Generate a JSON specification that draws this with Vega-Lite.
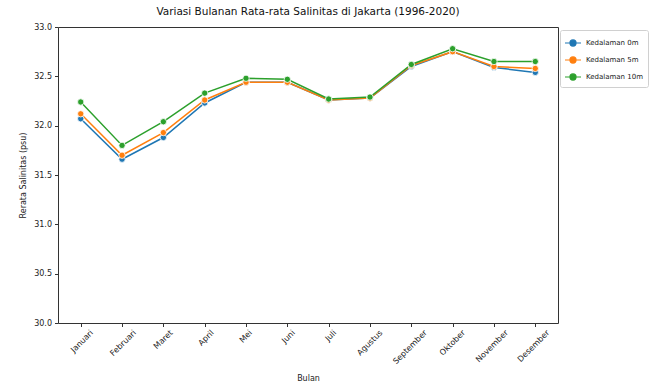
{
  "$schema": "https://vega.github.io/schema/vega-lite/v6.json",
  "width": 500,
  "height": 296,
  "autosize": {"type": "none"},
  "padding": {"left": 58, "top": 27, "right": 96, "bottom": 64},
  "background": "white",
  "config": {
    "font": "DejaVu Sans",
    "view": {"stroke": "#333333", "strokeWidth": 1},
    "axis": {
      "labelFont": "DejaVu Sans",
      "titleFont": "DejaVu Sans",
      "labelFontSize": 8,
      "titleFontSize": 8,
      "labelColor": "#222222",
      "titleColor": "#222222",
      "titleFontWeight": "normal",
      "tickColor": "#333333",
      "domain": false,
      "grid": false,
      "tickSize": 3.5
    }
  },
  "title": {
    "text": "Variasi Bulanan Rata-rata Salinitas di Jakarta (1996-2020)",
    "fontSize": 10.5,
    "fontWeight": "normal",
    "color": "#111111",
    "font": "DejaVu Sans",
    "anchor": "middle",
    "offset": 6
  },
  "data": {
    "values": [
      {"bulan": "Januari", "kedalaman": "Kedalaman 0m", "salinitas": 32.07},
      {"bulan": "Februari", "kedalaman": "Kedalaman 0m", "salinitas": 31.66},
      {"bulan": "Maret", "kedalaman": "Kedalaman 0m", "salinitas": 31.88},
      {"bulan": "April", "kedalaman": "Kedalaman 0m", "salinitas": 32.23},
      {"bulan": "Mei", "kedalaman": "Kedalaman 0m", "salinitas": 32.44},
      {"bulan": "Juni", "kedalaman": "Kedalaman 0m", "salinitas": 32.44},
      {"bulan": "Juli", "kedalaman": "Kedalaman 0m", "salinitas": 32.26},
      {"bulan": "Agustus", "kedalaman": "Kedalaman 0m", "salinitas": 32.28},
      {"bulan": "September", "kedalaman": "Kedalaman 0m", "salinitas": 32.6},
      {"bulan": "Oktober", "kedalaman": "Kedalaman 0m", "salinitas": 32.75},
      {"bulan": "November", "kedalaman": "Kedalaman 0m", "salinitas": 32.59},
      {"bulan": "Desember", "kedalaman": "Kedalaman 0m", "salinitas": 32.54},
      {"bulan": "Januari", "kedalaman": "Kedalaman 5m", "salinitas": 32.12},
      {"bulan": "Februari", "kedalaman": "Kedalaman 5m", "salinitas": 31.7},
      {"bulan": "Maret", "kedalaman": "Kedalaman 5m", "salinitas": 31.93},
      {"bulan": "April", "kedalaman": "Kedalaman 5m", "salinitas": 32.26},
      {"bulan": "Mei", "kedalaman": "Kedalaman 5m", "salinitas": 32.44},
      {"bulan": "Juni", "kedalaman": "Kedalaman 5m", "salinitas": 32.44},
      {"bulan": "Juli", "kedalaman": "Kedalaman 5m", "salinitas": 32.26},
      {"bulan": "Agustus", "kedalaman": "Kedalaman 5m", "salinitas": 32.28},
      {"bulan": "September", "kedalaman": "Kedalaman 5m", "salinitas": 32.61},
      {"bulan": "Oktober", "kedalaman": "Kedalaman 5m", "salinitas": 32.75},
      {"bulan": "November", "kedalaman": "Kedalaman 5m", "salinitas": 32.6},
      {"bulan": "Desember", "kedalaman": "Kedalaman 5m", "salinitas": 32.58},
      {"bulan": "Januari", "kedalaman": "Kedalaman 10m", "salinitas": 32.24},
      {"bulan": "Februari", "kedalaman": "Kedalaman 10m", "salinitas": 31.8},
      {"bulan": "Maret", "kedalaman": "Kedalaman 10m", "salinitas": 32.04},
      {"bulan": "April", "kedalaman": "Kedalaman 10m", "salinitas": 32.33},
      {"bulan": "Mei", "kedalaman": "Kedalaman 10m", "salinitas": 32.48},
      {"bulan": "Juni", "kedalaman": "Kedalaman 10m", "salinitas": 32.47},
      {"bulan": "Juli", "kedalaman": "Kedalaman 10m", "salinitas": 32.27},
      {"bulan": "Agustus", "kedalaman": "Kedalaman 10m", "salinitas": 32.29},
      {"bulan": "September", "kedalaman": "Kedalaman 10m", "salinitas": 32.62},
      {"bulan": "Oktober", "kedalaman": "Kedalaman 10m", "salinitas": 32.78},
      {"bulan": "November", "kedalaman": "Kedalaman 10m", "salinitas": 32.65},
      {"bulan": "Desember", "kedalaman": "Kedalaman 10m", "salinitas": 32.65}
    ]
  },
  "encoding": {
    "x": {
      "field": "bulan",
      "type": "ordinal",
      "sort": ["Januari", "Februari", "Maret", "April", "Mei", "Juni", "Juli", "Agustus", "September", "Oktober", "November", "Desember"],
      "scale": {"type": "point", "padding": 0.55},
      "axis": {
        "title": "Bulan",
        "titlePadding": 9,
        "labelAngle": -45,
        "labelAlign": "right",
        "labelBaseline": "top",
        "labelPadding": 2,
        "labelOffset": {"expr": "length(datum.label) * 1.6 - 3"}
      }
    },
    "y": {
      "field": "salinitas",
      "type": "quantitative",
      "scale": {"domain": [30, 33], "zero": false, "nice": false},
      "axis": {
        "title": "Rerata Salinitas (psu)",
        "values": [30, 30.5, 31, 31.5, 32, 32.5, 33],
        "format": ".1f",
        "labelPadding": 3,
        "titlePadding": 6
      }
    },
    "color": {
      "field": "kedalaman",
      "type": "nominal",
      "sort": ["Kedalaman 0m", "Kedalaman 5m", "Kedalaman 10m"],
      "scale": {"range": ["#1f77b4", "#ff7f0e", "#2ca02c"]},
      "legend": {
        "title": null,
        "orient": "none",
        "legendX": 502,
        "legendY": 3,
        "padding": 4,
        "strokeColor": "#d0d0d0",
        "fillColor": "white",
        "cornerRadius": 2,
        "labelFont": "DejaVu Sans",
        "labelFontSize": 7,
        "labelColor": "#222222",
        "rowPadding": 2,
        "symbolType": "M-1,0H-0.4M0.4,0H1M0.38,0A0.38,0.38 0 1,1 -0.38,0A0.38,0.38 0 1,1 0.38,0Z",
        "symbolSize": 256,
        "symbolStrokeWidth": 1.2,
        "labelOffset": 4
      }
    }
  },
  "layer": [
    {"mark": {"type": "line", "strokeWidth": 1.5}},
    {"mark": {"type": "point", "filled": true, "size": 40, "opacity": 1, "stroke": "white", "strokeWidth": 0.8}}
  ]
}
